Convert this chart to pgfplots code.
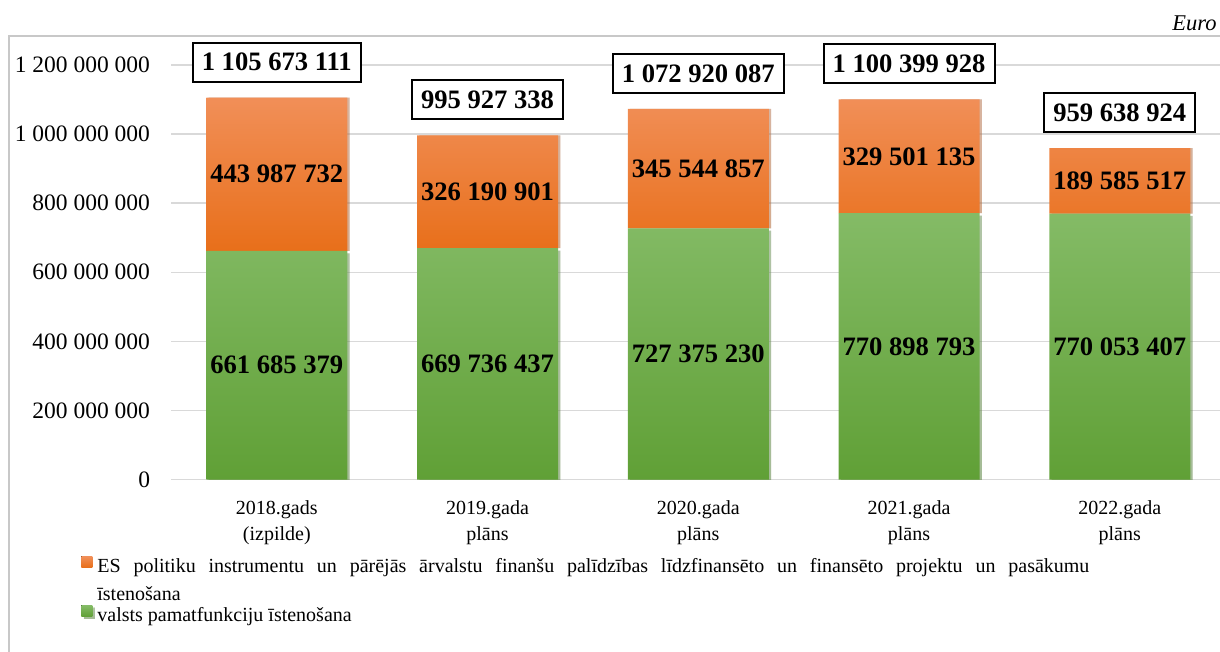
\documentclass[border=0pt]{standalone}
\usepackage{pgfplots}
\pgfplotsset{compat=1.18}
\usepackage{fontspec}
\setmainfont{Liberation Serif}
\usetikzlibrary{shadows}
\definecolor{gridgray}{HTML}{D9D9D9}
\definecolor{framegray}{HTML}{C8C8C8}
\definecolor{gtop}{HTML}{84BB66}
\definecolor{gbot}{HTML}{60A036}
\definecolor{otop}{HTML}{F18F58}
\definecolor{obot}{HTML}{E86F1A}
\begin{document}
\begin{tikzpicture}
\path[use as bounding box] (0,0) rectangle (610pt,-326pt);
\draw[framegray, line width=0.75pt] (4.5pt,-330pt) -- (4.5pt,-18pt) -- (615pt,-18pt);
\node[anchor=base east, inner sep=0pt, font=\fontsize{11.25}{13}\selectfont\itshape] at (608.5pt,-15.5pt) {Euro};
\begin{axis}[
  at={(85.7pt,-239.75pt)}, anchor=south west,
  scale only axis, width=526.875pt, height=207.25pt,
  xmin=-0.5, xmax=4.5, ymin=0, ymax=1.2e9,
  ybar stacked, bar width=0.669,
  axis line style={draw=none}, major tick length=0pt,
  ymajorgrids, grid style={gridgray, line width=0.75pt},
  scaled y ticks=false,
  ytick={0,200000000,400000000,600000000,800000000,1000000000,1200000000},
  yticklabels={0,200 000 000,400 000 000,600 000 000,800 000 000,1 000 000 000,1 200 000 000},
  yticklabel style={font=\fontsize{11.75}{14}\selectfont, anchor=east, inner sep=0pt, xshift=-10.5pt},
  xtick={0,1,2,3,4},
  xticklabels={{2018.gads\\(izpilde)},{2019.gada\\plāns},{2020.gada\\plāns},{2021.gada\\plāns},{2022.gada\\plāns}},
  xticklabel style={font=\fontsize{10}{13}\selectfont, align=center, anchor=north, inner sep=0pt, yshift=-10.5pt},
  legend style={at={(-0.0858,-0.1846)}, anchor=north west, draw=none, fill=none, inner sep=0pt,
    row sep=2.75pt, column sep=2.5pt, font=\fontsize{10}{13}\selectfont,
    nodes={inner sep=0pt, text height=7pt, text depth=2pt}},
  legend cell align=left,
  legend image code/.code={\fill[#1] (0pt,0pt) rectangle (5.5pt,5.5pt);},
]
\addlegendimage{draw=none, top color=otop, bottom color=obot}
\addlegendentry{\makebox[496pt][s]{ES politiku instrumentu un pārējās ārvalstu finanšu palīdzības līdzfinansēto un finansēto projektu un pasākumu}}
\addlegendimage{empty legend}
\addlegendentry{\raisebox{-2.25pt}{īstenošana}}
\addplot[draw=none, top color=gtop, bottom color=gbot,
  drop shadow={shadow xshift=1.2pt, shadow yshift=-1.2pt, opacity=0.35, fill=black!60},
  nodes near coords, point meta=explicit symbolic,
  every node near coord/.style={anchor=center, inner sep=0pt, text=black, font=\fontsize{13.3}{15}\selectfont\bfseries}]
 coordinates {(0,661685379) [661 685 379] (1,669736437) [669 736 437] (2,727375230) [727 375 230] (3,770898793) [770 898 793] (4,770053407) [770 053 407]};
\addlegendentry{valsts pamatfunkciju īstenošana}
\addplot[draw=none, top color=otop, bottom color=obot, forget plot,
  drop shadow={shadow xshift=1.2pt, shadow yshift=0pt, opacity=0.35, fill=black!60},
  nodes near coords, point meta=explicit symbolic,
  every node near coord/.style={anchor=center, inner sep=0pt, text=black, font=\fontsize{13.3}{15}\selectfont\bfseries}]
 coordinates {(0,443987732) [443 987 732] (1,326190901) [326 190 901] (2,345544857) [345 544 857] (3,329501135) [329 501 135] (4,189585517) [189 585 517]};
\addplot[draw=none, fill=none, forget plot,
  nodes near coords, point meta=explicit symbolic,
  every node near coord/.style={anchor=south, yshift=7.5pt, draw=black, line width=1pt, fill=white, text=black,
    inner xsep=4.5pt, inner ysep=0pt, minimum height=19.5pt, font=\fontsize{13.3}{15}\selectfont\bfseries}]
 coordinates {(0,1) [1 105 673 111] (1,1) [995 927 338] (2,1) [1 072 920 087] (3,1) [1 100 399 928] (4,1) [959 638 924]};
\end{axis}
\end{tikzpicture}
\end{document}
